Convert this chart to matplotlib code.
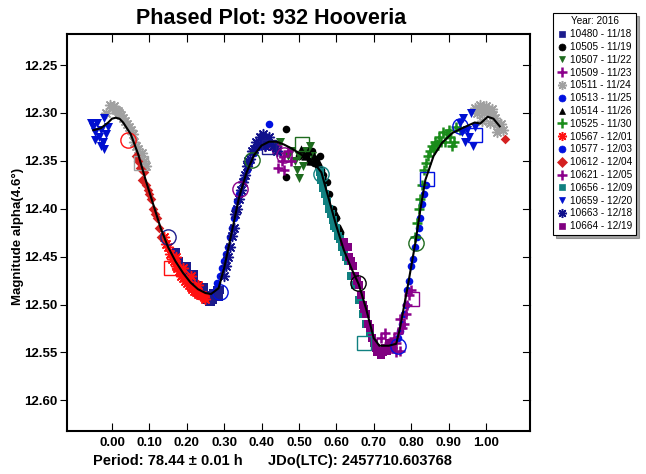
import numpy as np
import matplotlib.pyplot as plt
from matplotlib.lines import Line2D

plt.rcParams['font.family'] = ['Liberation Sans', 'DejaVu Sans']
plt.rcParams['font.weight'] = 'bold'

# Fourier fit
fit_phase = [-0.05, -0.03, -0.01, 0.00, 0.01, 0.02, 0.03, 0.05, 0.07, 0.09, 0.11, 0.13, 0.15,
             0.17, 0.19, 0.21, 0.23, 0.25, 0.265, 0.285, 0.30, 0.32, 0.34, 0.36, 0.38, 0.40,
             0.42, 0.44, 0.46, 0.48, 0.50, 0.52, 0.54, 0.56, 0.58, 0.60, 0.62, 0.64, 0.66,
             0.68, 0.70, 0.715, 0.74, 0.76, 0.77, 0.79, 0.812, 0.825, 0.838, 0.86, 0.883,
             0.91, 0.936, 0.97, 0.985, 1.005, 1.02, 1.037]
fit_mag = [12.318, 12.316, 12.310, 12.306, 12.305, 12.306, 12.310, 12.322, 12.343, 12.370,
           12.395, 12.420, 12.440, 12.455, 12.467, 12.477, 12.484, 12.488, 12.489, 12.483,
           12.462, 12.425, 12.388, 12.362, 12.344, 12.334, 12.330, 12.330, 12.333, 12.337,
           12.342, 12.347, 12.352, 12.362, 12.390, 12.418, 12.443, 12.462, 12.479, 12.505,
           12.535, 12.543, 12.543, 12.541, 12.525, 12.483, 12.434, 12.400, 12.370, 12.345,
           12.331, 12.321, 12.316, 12.310, 12.311, 12.304, 12.306, 12.314]

# sessions
names = ['10480 - 11/18', '10505 - 11/19', '10507 - 11/22', '10509 - 11/23', '10511 - 11/24',
         '10513 - 11/25', '10514 - 11/26', '10525 - 11/30', '10567 - 12/01', '10577 - 12/03',
         '10612 - 12/04', '10621 - 12/05', '10656 - 12/09', '10659 - 12/20', '10663 - 12/18',
         '10664 - 12/19']
colors = ['#1c1c8c', '#000000', '#1e6b1e', '#8b008b', '#a0a0a0', '#0010e0', '#000000',
          '#1a8c1a', '#ff1010', '#0010e0', '#d42020', '#8b008b', '#108080', '#0010d0',
          '#10108c', '#800080']
markers = ['s', 'o', 'v', '+', 'ast', 'o', '^', '+', 'ast', 'o', 'D', '+', 's', 'v', 'ast', 's']

s10480_p = [0.17, 0.18, 0.19, 0.20, 0.21, 0.22, 0.23, 0.235, 0.24, 0.25, 0.255, 0.26, 0.265,
            0.27, 0.275, 0.28, 0.285, 0.29, 0.20, 0.22, 0.245, 0.26, 0.27]
s10480_m = [12.445, 12.455, 12.46, 12.465, 12.47, 12.475, 12.48, 12.485, 12.49, 12.49, 12.495,
            12.49, 12.497, 12.495, 12.49, 12.485, 12.492, 12.485, 12.46, 12.468, 12.482, 12.497,
            12.488]
s10505_p = [0.465, 0.465, 0.50, 0.51, 0.52, 0.53, 0.535, 0.54, 0.545, 0.55, 0.555, 0.56, 0.565,
            0.575, 0.58, 0.59, 0.60, 0.61, 0.62, 0.63]
s10505_m = [12.317, 12.367, 12.345, 12.342, 12.345, 12.350, 12.340, 12.352, 12.348, 12.355,
            12.345, 12.360, 12.365, 12.372, 12.385, 12.40, 12.41, 12.425, 12.44, 12.452]
s10507_p = [0.44, 0.45, 0.47, 0.48, 0.49, 0.495, 0.50, 0.51, 0.52, 0.53, 0.535, 0.50]
s10507_m = [12.335, 12.33, 12.345, 12.34, 12.35, 12.36, 12.345, 12.355, 12.34, 12.335, 12.345,
            12.368]
s10509_p = [0.41, 0.42, 0.43, 0.44, 0.45, 0.455, 0.46, 0.47, 0.48, 0.445, 0.46]
s10509_m = [12.335, 12.33, 12.338, 12.335, 12.342, 12.35, 12.345, 12.34, 12.35, 12.357, 12.36]
s10511_p = [-0.015, -0.005, 0.0, 0.005, 0.01, 0.015, 0.02, 0.025, 0.03, 0.035, 0.04, 0.045,
            0.05, 0.055, 0.06, 0.065, 0.07, 0.075, 0.08, 0.085, 0.09, 0.97, 0.975, 0.98, 0.985,
            0.99, 0.995, 1.0, 1.005, 1.01, 1.015, 1.02, 1.025, 1.03, 1.035, 1.04, 1.045, 0.99,
            1.01, 1.03]
s10511_m = [12.300, 12.292, 12.295, 12.293, 12.297, 12.298, 12.300, 12.302, 12.305, 12.308,
            12.312, 12.315, 12.318, 12.322, 12.330, 12.335, 12.338, 12.345, 12.342, 12.350,
            12.355, 12.295, 12.300, 12.297, 12.292, 12.296, 12.300, 12.293, 12.297, 12.300,
            12.296, 12.302, 12.305, 12.310, 12.315, 12.312, 12.318, 12.308, 12.310, 12.320]
s10513_p = [0.765, 0.77, 0.775, 0.78, 0.785, 0.79, 0.795, 0.80, 0.805, 0.81, 0.815, 0.82, 0.825,
            0.83, 0.835, 0.84]
s10513_m = [12.535, 12.528, 12.52, 12.51, 12.50, 12.485, 12.475, 12.46, 12.452, 12.44, 12.43,
            12.42, 12.41, 12.395, 12.385, 12.375]
s10514_p = [0.505, 0.515, 0.525, 0.53, 0.54, 0.55, 0.56, 0.57, 0.60, 0.61]
s10514_m = [12.338, 12.345, 12.34, 12.35, 12.345, 12.35, 12.357, 12.37, 12.405, 12.42]
s10525_p = [0.81, 0.815, 0.82, 0.825, 0.83, 0.835, 0.84, 0.845, 0.85, 0.855, 0.86, 0.865, 0.87,
            0.875, 0.88, 0.885, 0.89, 0.895, 0.90, 0.905, 0.91, 0.915, 0.92, 0.93]
s10525_m = [12.43, 12.415, 12.40, 12.39, 12.375, 12.36, 12.352, 12.345, 12.34, 12.335, 12.338,
            12.33, 12.332, 12.325, 12.33, 12.32, 12.33, 12.322, 12.318, 12.325, 12.335, 12.33,
            12.315, 12.318]
s10567_p = [0.14, 0.145, 0.15, 0.155, 0.16, 0.165, 0.17, 0.175, 0.18, 0.185, 0.19, 0.195, 0.20,
            0.205, 0.21, 0.215, 0.22, 0.225, 0.23, 0.235, 0.24, 0.245, 0.25, 0.17, 0.19, 0.21,
            0.23]
s10567_m = [12.43, 12.437, 12.44, 12.447, 12.452, 12.455, 12.46, 12.462, 12.465, 12.47, 12.472,
            12.475, 12.478, 12.48, 12.482, 12.484, 12.486, 12.487, 12.489, 12.49, 12.49, 12.492,
            12.494, 12.45, 12.462, 12.47, 12.48]
s10577_p = [0.28, 0.29, 0.295, 0.30, 0.305, 0.31, 0.315, 0.32, 0.325, 0.33, 0.335, 0.34, 0.35,
            0.36, 0.37, 0.38, 0.39, 0.40, 0.41, 0.42, 0.42]
s10577_m = [12.478, 12.47, 12.462, 12.455, 12.447, 12.44, 12.43, 12.42, 12.41, 12.40, 12.392,
            12.385, 12.37, 12.36, 12.35, 12.342, 12.336, 12.333, 12.335, 12.312, 12.33]
s10612_p = [0.065, 0.07, 0.075, 0.08, 0.085, 0.09, 0.095, 0.10, 0.105, 0.11, 0.115, 0.12, 0.125,
            0.13, 1.05]
s10612_m = [12.345, 12.35, 12.358, 12.37, 12.362, 12.375, 12.38, 12.385, 12.39, 12.40, 12.405,
            12.41, 12.42, 12.43, 12.327]
s10621_p = [0.72, 0.73, 0.74, 0.75, 0.755, 0.76, 0.765, 0.77, 0.775, 0.78, 0.785, 0.79, 0.795,
            0.80, 0.76, 0.77]
s10621_m = [12.535, 12.53, 12.54, 12.545, 12.535, 12.54, 12.53, 12.548, 12.525, 12.52, 12.51,
            12.50, 12.49, 12.485, 12.55, 12.515]
s10656_p = [0.555, 0.56, 0.565, 0.57, 0.575, 0.58, 0.585, 0.59, 0.595, 0.60, 0.605, 0.61, 0.615,
            0.62, 0.625, 0.63, 0.64, 0.65, 0.66, 0.67, 0.68, 0.69]
s10656_m = [12.362, 12.37, 12.378, 12.385, 12.392, 12.40, 12.405, 12.412, 12.418, 12.42, 12.428,
            12.432, 12.44, 12.445, 12.45, 12.455, 12.47, 12.48, 12.495, 12.51, 12.52, 12.53]
s10659_p = [-0.055, -0.05, -0.045, -0.04, -0.035, -0.03, -0.025, -0.02, -0.015, -0.01, -0.045,
            -0.03, -0.02, 0.93, 0.935, 0.94, 0.945, 0.95, 0.955, 0.96, 0.965, 0.97]
s10659_m = [12.31, 12.315, 12.32, 12.31, 12.325, 12.318, 12.33, 12.305, 12.322, 12.315, 12.328,
            12.335, 12.338, 12.31, 12.32, 12.305, 12.33, 12.318, 12.325, 12.30, 12.335, 12.315]
s10663_p = [0.30, 0.305, 0.31, 0.315, 0.32, 0.325, 0.33, 0.335, 0.34, 0.345, 0.35, 0.355, 0.36,
            0.365, 0.37, 0.375, 0.38, 0.385, 0.39, 0.395, 0.40, 0.405, 0.41, 0.415, 0.42, 0.43,
            0.44]
s10663_m = [12.47, 12.46, 12.45, 12.44, 12.428, 12.42, 12.405, 12.40, 12.39, 12.38, 12.372,
            12.365, 12.355, 12.35, 12.348, 12.34, 12.338, 12.33, 12.332, 12.325, 12.33, 12.322,
            12.335, 12.33, 12.325, 12.335, 12.34]
s10664_p = [0.62, 0.63, 0.635, 0.64, 0.645, 0.65, 0.655, 0.66, 0.665, 0.67, 0.675, 0.68, 0.685,
            0.69, 0.695, 0.70, 0.705, 0.71, 0.715, 0.72, 0.725, 0.73, 0.735, 0.74, 0.75]
s10664_m = [12.435, 12.44, 12.45, 12.455, 12.46, 12.47, 12.475, 12.48, 12.49, 12.50, 12.505,
            12.51, 12.52, 12.525, 12.535, 12.54, 12.545, 12.55, 12.548, 12.553, 12.55, 12.545,
            12.548, 12.54, 12.545]

phases = [s10480_p, s10505_p, s10507_p, s10509_p, s10511_p, s10513_p, s10514_p, s10525_p,
          s10567_p, s10577_p, s10612_p, s10621_p, s10656_p, s10659_p, s10663_p, s10664_p]
mags = [s10480_m, s10505_m, s10507_m, s10509_m, s10511_m, s10513_m, s10514_m, s10525_m,
        s10567_m, s10577_m, s10612_m, s10621_m, s10656_m, s10659_m, s10663_m, s10664_m]

# large open markers (session reference points)
open_p = [0.042, 0.077, 0.149, 0.157, 0.29, 0.374, 0.343, 0.419, 0.46, 0.507, 0.56, 0.658,
          0.674, 0.764, 0.803, 0.812, 0.843, 0.931, 0.971]
open_m = [12.328, 12.352, 12.43, 12.462, 12.487, 12.349, 12.379, 12.336, 12.344, 12.332,
          12.364, 12.478, 12.54, 12.543, 12.494, 12.436, 12.369, 12.314, 12.323]
open_c = ['#ff1010', '#a0a0a0', '#1c1c8c', '#ff1010', '#0010e0', '#1e6b1e', '#8b008b',
          '#1c1c8c', '#8b008b', '#1e6b1e', '#108080', '#000000', '#108080', '#0010e0',
          '#8b008b', '#1e6b1e', '#0010e0', '#0010e0', '#0010e0']
open_k = ['o', 's', 'o', 's', 'o', 'o', 'o', 's', 'o', 's', 'o', 'o', 's', 'o', 's', 'o', 's',
          'o', 's']

asterisk = (8, 2, 0)


def mk(k):
    return asterisk if k == 'ast' else k


fig = plt.figure(figsize=(6.46, 4.74), dpi=100)
ax = fig.add_axes([0.1033, 0.0907, 0.7172, 0.8376])

sizes = {'s': 40, 'o': 30, 'v': 42, '+': 55, 'ast': 50, '^': 36, 'D': 24}
widths = {'+': 1.8, 'ast': 1.1}
for i in range(len(names)):
    k = markers[i]
    ax.scatter(phases[i], mags[i], marker=mk(k), s=sizes[k], color=colors[i],
               linewidths=widths.get(k, 0), zorder=2)

for p, m, c, k in zip(open_p, open_m, open_c, open_k):
    ax.plot(p, m, marker=k, ms=11 if k == 'o' else 10, mfc='none', mec=c, mew=1.0, zorder=3)

ax.plot(fit_phase, fit_mag, color='black', lw=1.5, zorder=4)

ax.set_xlim(-0.121, 1.118)
ax.set_ylim(12.632, 12.2176)
xt = [0.0, 0.1, 0.2, 0.3, 0.4, 0.5, 0.6, 0.7, 0.8, 0.9, 1.0]
yt = [12.25, 12.30, 12.35, 12.40, 12.45, 12.50, 12.55, 12.60]
ax.set_xticks(xt)
ax.set_xticklabels(['%.2f' % t for t in xt])
ax.set_yticks(yt)
ax.set_yticklabels(['%.2f' % t for t in yt])
ax.tick_params(axis='x', direction='in', top=True, length=6, labelsize=9.5, pad=4)
ax.tick_params(axis='y', direction='out', length=5, labelsize=9.5, pad=2)
for t in yt:
    ax.plot([0.985, 1.0], [t, t], color='black', lw=0.8, clip_on=False,
            transform=ax.get_yaxis_transform())
for sp in ax.spines.values():
    sp.set_linewidth(1.5)

fig.text(271 / 646, 1 - 18 / 474, 'Phased Plot: 932 Hooveria', ha='center', va='center',
         fontsize=15.5, fontweight='bold')
fig.text(18 / 646, 1 - 236 / 474, 'Magnitude alpha(4.6°)', rotation=90, ha='center',
         va='center', fontsize=9.5, fontweight='bold')
fig.text(93 / 646, 1 - 461 / 474, 'Period: 78.44 ± 0.01 h', ha='left', va='center',
         fontsize=10.5, fontweight='bold')
fig.text(268 / 646, 1 - 461 / 474, 'JDo(LTC): 2457710.603768', ha='left', va='center',
         fontsize=10.5, fontweight='bold')

handles = []
for i in range(len(names)):
    k = markers[i]
    handles.append(Line2D([], [], ls='none', marker=mk(k), color=colors[i],
                          ms=6.5 if k in widths else 5, mew=widths.get(k, 0.5)))
leg = fig.legend(handles, names, title='Year: 2016', loc='upper left',
                 bbox_to_anchor=(553 / 646, 1 - 13 / 474), fontsize=7.2, title_fontsize=7.2,
                 frameon=True, fancybox=False, shadow=True, borderpad=0.35, labelspacing=0.28,
                 handlelength=1.0, handletextpad=0.4, borderaxespad=0)
leg.get_frame().set_edgecolor('black')
leg.get_frame().set_linewidth(0.8)
leg.get_title().set_fontweight('normal')
for txt in leg.get_texts():
    txt.set_fontweight('normal')

fig.savefig('out.png', dpi=100)
